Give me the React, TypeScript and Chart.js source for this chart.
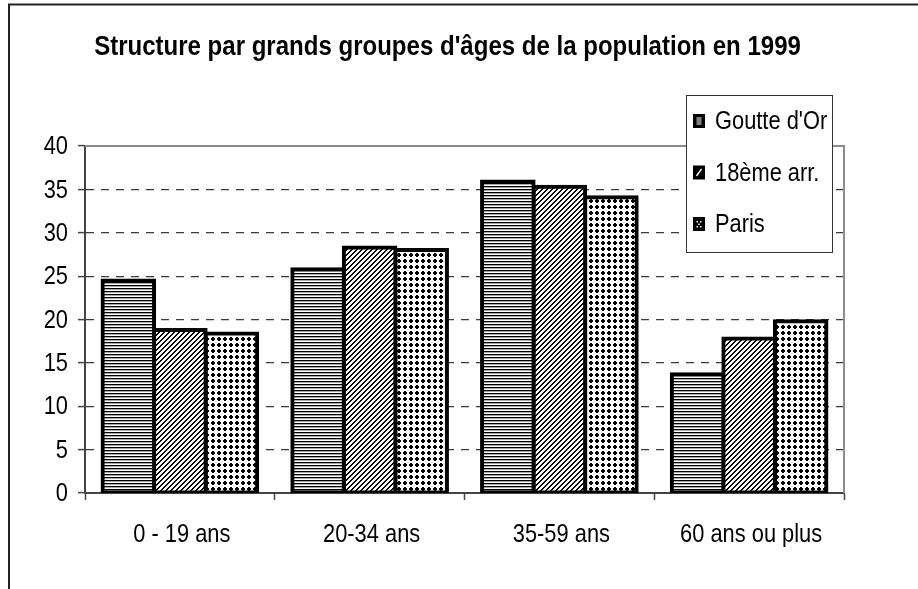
import React, { useEffect, useRef } from "react";
import { Chart, registerables } from "chart.js";

Chart.register(...registerables);

// ---- Data ----
const categories = ["0 - 19 ans", "20-34 ans", "35-59 ans", "60 ans ou plus"];
const seriesNames = ["Goutte d'Or", "18ème arr.", "Paris"];
const goutteDOr = [24.5, 25.8, 35.9, 13.7];
const dixHuitieme = [18.8, 28.3, 35.3, 17.8];
const paris = [18.4, 28.0, 34.1, 19.8];
const yMin = 0;
const yMax = 40;
const yStep = 5;
const titleText = "Structure par grands groupes d'âges de la population en 1999";

const SANS = '"Liberation Sans", Arial, sans-serif';
const SQUEEZE = 0.84;

type Kind = "horiz" | "diag" | "dots";
const kinds: Kind[] = ["horiz", "diag", "dots"];

function makePattern(kind: Kind): CanvasPattern | string {
  const c = document.createElement("canvas");
  const size = kind === "horiz" ? 3 : kind === "diag" ? 5 : 6;
  c.width = size;
  c.height = size;
  const g = c.getContext("2d");
  if (!g) return "#888";
  g.fillStyle = "#fff";
  g.fillRect(0, 0, size, size);
  g.fillStyle = "#000";
  if (kind === "horiz") {
    g.fillRect(0, 0, size, 1);
    g.fillStyle = "#aaa";
    g.fillRect(0, 1, size, 1);
  } else if (kind === "diag") {
    for (let x = 0; x < size; x++) {
      for (let y = 0; y < size; y++) {
        const m = (x + y) % 5;
        if (m === 0 || m === 1) g.fillRect(x, y, 1, 1);
      }
    }
  } else {
    for (let x = 1; x <= 4; x++) {
      for (let y = 1; y <= 4; y++) {
        const corner = (x === 1 || x === 4) && (y === 1 || y === 4);
        if (!corner) g.fillRect(x, y, 1, 1);
      }
    }
  }
  const p = g.createPattern(c, "repeat");
  return p || "#888";
}

function squeezedText(
  ctx: CanvasRenderingContext2D,
  text: string,
  x: number,
  y: number,
  align: CanvasTextAlign,
  sx: number
) {
  ctx.save();
  ctx.translate(x, y);
  ctx.scale(sx, 1);
  ctx.textAlign = align;
  ctx.fillText(text, 0, 0);
  ctx.restore();
}

function drawLegendMarker(ctx: CanvasRenderingContext2D, kind: Kind, x: number, y: number) {
  const w = 12;
  const h = 14;
  ctx.fillStyle = "#000";
  ctx.fillRect(x, y, w, h);
  ctx.fillStyle = "#fff";
  if (kind === "horiz") {
    for (let i = 0; i < 4; i++) ctx.fillRect(x + 3.5, y + 3.5 + i * 2, 5, 1);
  } else if (kind === "diag") {
    ctx.strokeStyle = "#fff";
    ctx.lineWidth = 1.4;
    ctx.beginPath();
    ctx.moveTo(x + 3.5, y + 10.5);
    ctx.lineTo(x + 8.5, y + 3.5);
    ctx.stroke();
  } else {
    const pts = [[3.5, 4], [7, 4], [5.3, 6.5], [3.5, 9], [7, 9]];
    for (const [px, py] of pts) ctx.fillRect(x + px, y + py, 1.5, 1.5);
  }
}

const decorPlugin = {
  id: "decor",
  beforeDraw(chart: any) {
    const ctx = chart.ctx as CanvasRenderingContext2D;
    ctx.save();
    ctx.fillStyle = "#fff";
    ctx.fillRect(0, 0, chart.width, chart.height);
    ctx.restore();
  },
  beforeDatasetsDraw(chart: any) {
    const ctx = chart.ctx as CanvasRenderingContext2D;
    const a = chart.chartArea;
    ctx.save();
    ctx.strokeStyle = "#8c8c8c";
    ctx.lineWidth = 2;
    ctx.beginPath();
    ctx.moveTo(a.left, a.top);
    ctx.lineTo(a.right, a.top);
    ctx.lineTo(a.right, a.bottom);
    ctx.stroke();
    ctx.restore();
  },
  afterDraw(chart: any) {
    const ctx = chart.ctx as CanvasRenderingContext2D;
    ctx.save();
    // outer frame
    ctx.strokeStyle = "#222";
    ctx.lineWidth = 2;
    ctx.beginPath();
    ctx.moveTo(9, chart.height);
    ctx.lineTo(9, 4.5);
    ctx.lineTo(chart.width, 4.5);
    ctx.stroke();

    ctx.fillStyle = "#000";
    ctx.textBaseline = "middle";

    // axis labels (positions from the library's scales)
    const xs = chart.scales.x;
    const ys = chart.scales.y;
    ctx.font = "26px " + SANS;
    const labels = chart.data.labels as string[];
    for (let i = 0; i < labels.length; i++) {
      squeezedText(ctx, labels[i], xs.getPixelForTick(i) + 2, 535, "center", SQUEEZE);
    }
    for (let v = yMin; v <= yMax; v += yStep) {
      squeezedText(ctx, String(v), ys.left + ys.width - 17, ys.getPixelForValue(v) + 1, "right", SQUEEZE);
    }

    // title
    ctx.font = "bold 27px " + SANS;
    squeezedText(ctx, titleText, 447.5, 48, "center", 0.89);

    // legend
    const lx = 686.5;
    const ly = 95.5;
    const lw = 146;
    const lh = 157;
    ctx.fillStyle = "#fff";
    ctx.fillRect(lx, ly, lw, lh);
    ctx.strokeStyle = "#333";
    ctx.lineWidth = 1;
    ctx.strokeRect(lx, ly, lw, lh);
    ctx.font = "26px " + SANS;
    const ds = chart.data.datasets;
    for (let i = 0; i < ds.length; i++) {
      const cy = 121 + i * 51.5;
      drawLegendMarker(ctx, kinds[i], 693, cy - 7);
      ctx.fillStyle = "#000";
      squeezedText(ctx, ds[i].label, 715, cy + 1, "left", SQUEEZE);
    }
    ctx.restore();
  },
};

export default function App() {
  const ref = useRef<HTMLCanvasElement | null>(null);

  useEffect(() => {
    const canvas = ref.current;
    if (!canvas) return;
    const seriesValues = [goutteDOr, dixHuitieme, paris];
    const chart = new Chart(canvas, {
      type: "bar",
      data: {
        labels: categories,
        datasets: seriesNames.map((name, i) => ({
          label: name,
          data: seriesValues[i],
          backgroundColor: makePattern(kinds[i]) as any,
          borderColor: "#000",
          borderWidth: 4,
          borderSkipped: false,
          inflateAmount: 2,
          categoryPercentage: 0.815,
          barPercentage: 1,
        })),
      },
      options: {
        responsive: false,
        animation: false,
        devicePixelRatio: 1,
        layout: { padding: { left: 0, top: 146, right: 74, bottom: 0 } },
        plugins: {
          legend: { display: false },
          title: { display: false },
          tooltip: { enabled: false },
        },
        scales: {
          x: {
            type: "category",
            offset: true,
            grid: {
              offset: true,
              drawOnChartArea: false,
              drawTicks: true,
              tickLength: 7,
              tickColor: "#444",
              tickWidth: 1.5,
            },
            border: { display: true, color: "#444", width: 2 },
            ticks: { display: false, autoSkip: false, maxRotation: 0 },
            afterFit: (s: any) => {
              s.height = 96;
            },
          },
          y: {
            min: yMin,
            max: yMax,
            ticks: { stepSize: yStep, display: false },
            grid: {
              color: (c: any) =>
                c.tick && (c.tick.value === yMin || c.tick.value === yMax) ? "rgba(0,0,0,0)" : "#3a3a3a",
              lineWidth: 1.2,
              tickLength: 7,
              tickColor: "#444",
              tickWidth: 1.5,
            },
            border: { display: true, color: "#444", width: 2, dash: [8, 7] },
            afterFit: (s: any) => {
              s.width = 85;
            },
          },
        },
      } as any,
      plugins: [decorPlugin],
    });
    return () => chart.destroy();
  }, []);

  return (
    <div style={{ position: "fixed", left: 0, top: 0, width: 918, height: 589, background: "#fff" }}>
      <canvas ref={ref} width={918} height={589} style={{ display: "block", width: 918, height: 589 }} />
    </div>
  );
}
